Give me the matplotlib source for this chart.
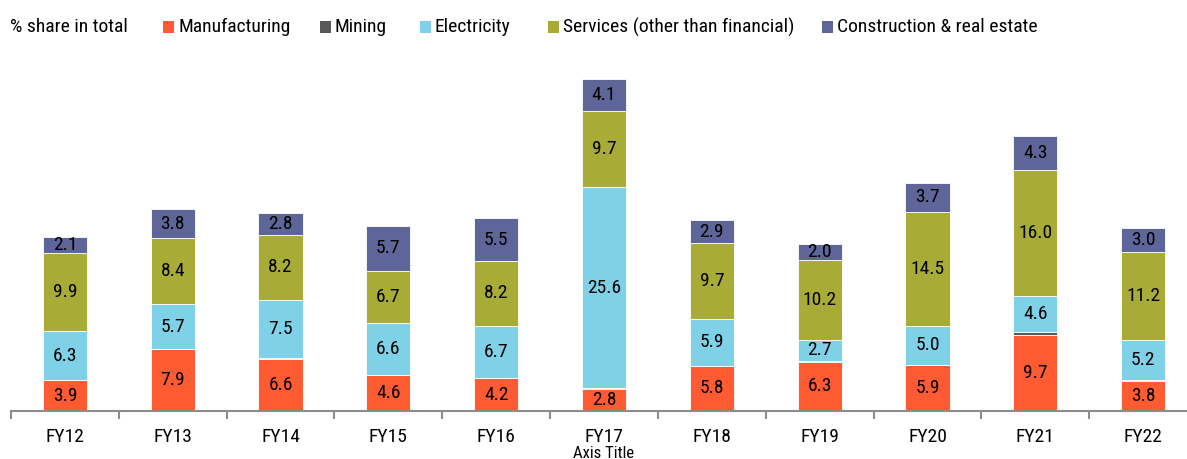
import matplotlib.pyplot as plt
from matplotlib.patches import Rectangle
import numpy as np

plt.rcParams['font.family'] = ['Roboto Condensed', 'Liberation Sans', 'DejaVu Sans']

years = ['FY12', 'FY13', 'FY14', 'FY15', 'FY16', 'FY17', 'FY18', 'FY19', 'FY20', 'FY21', 'FY22']
manufacturing = [3.9, 7.9, 6.6, 4.6, 4.2, 2.8, 5.8, 6.3, 5.9, 9.7, 3.8]
mining = [0.0, 0.0, 0.1, 0.0, 0.0, 0.1, 0.0, 0.1, 0.0, 0.4, 0.1]
electricity = [6.3, 5.7, 7.5, 6.6, 6.7, 25.6, 5.9, 2.7, 5.0, 4.6, 5.2]
services = [9.9, 8.4, 8.2, 6.7, 8.2, 9.7, 9.7, 10.2, 14.5, 16.0, 11.2]
construction = [2.1, 3.8, 2.8, 5.7, 5.5, 4.1, 2.9, 2.0, 3.7, 4.3, 3.0]

series = [
    ('Manufacturing', manufacturing, '#FF5B33', True),
    ('Mining', mining, '#595959', False),
    ('Electricity', electricity, '#7ED1E6', True),
    ('Services (other than financial)', services, '#A8AC36', True),
    ('Construction & real estate', construction, '#5E6699', True),
]

W, H = 1187, 459
fig = plt.figure(figsize=(W / 100, H / 100), dpi=100)
# axis runs past the right edge like in the source image
ax = fig.add_axes([11 / W, 48 / H, 1186 / W, 371 / H])

x = np.arange(len(years))
bottom = np.zeros(len(years))
for name, vals, col, lab in series:
    vals = np.array(vals)
    ax.bar(x, vals, 0.41, bottom=bottom, color=col, edgecolor='white', linewidth=0.6)
    if lab:
        for xi, b, v in zip(x, bottom, vals):
            ax.text(xi, b + v / 2, f'{v:.1f}', ha='center', va='center', fontsize=14, color='black')
    bottom += vals

ax.set_xlim(-0.5, 10.5)
ax.set_ylim(0, 47.3)
ax.set_yticks([])
for s in ['top', 'right', 'left']:
    ax.spines[s].set_visible(False)
ax.spines['bottom'].set_color('#8c8c8c')
ax.spines['bottom'].set_linewidth(1.5)
ax.set_xticks(x)
ax.set_xticklabels(years, fontsize=14)
ax.set_xticks(np.arange(-0.5, 11, 1), minor=True)
ax.tick_params(axis='x', which='major', length=0, pad=12)
ax.tick_params(axis='x', which='minor', length=6, width=1.5, color='#8c8c8c')
ax.set_xlabel('Axis Title', fontsize=12, labelpad=0)

# legend drawn by hand so the items sit where they are in the source
ly = 1 - 27 / H
fig.text(10 / W, ly, '% share in total', fontsize=14, va='center', ha='left')
marker_x = [163, 320, 420, 548, 822]
for (name, _, col, _), mx in zip(series, marker_x):
    fig.patches.append(Rectangle((mx / W, ly - 6 / H), 11 / W, 12 / H, transform=fig.transFigure,
                                 facecolor=col, edgecolor='none'))
    fig.text((mx + 15) / W, ly, name, fontsize=14, va='center', ha='left')

fig.savefig('out.png', dpi=100)
